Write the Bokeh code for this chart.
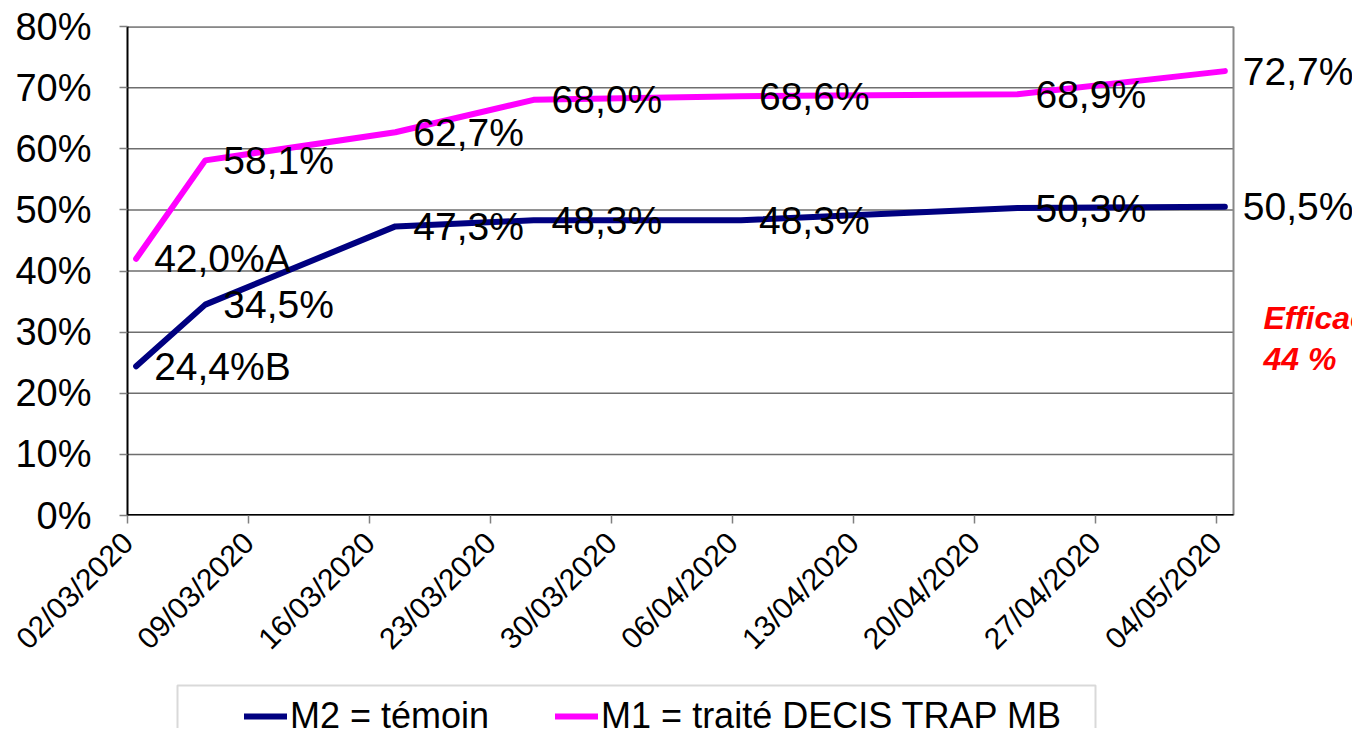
import math
from datetime import datetime, timedelta

from bokeh.plotting import figure
from bokeh.layouts import column
from bokeh.models import (Range1d, FixedTicker, DatetimeTickFormatter, PrintfTickFormatter,
                          Legend, LegendItem, Label, BoxAnnotation, ColumnDataSource)
from bokeh.core.properties import value
from bokeh.embed import file_html
from bokeh.resources import INLINE

# ---------------- data ----------------
dates = ["02/03/2020", "06/03/2020", "17/03/2020", "25/03/2020",
         "06/04/2020", "22/04/2020", "04/05/2020"]
m2_values = [24.4, 34.5, 47.3, 48.3, 48.3, 50.3, 50.5]
m1_values = [42.0, 58.1, 62.7, 68.0, 68.6, 68.9, 72.7]
m2_letters = ["B", "", "", "", "", "", ""]
m1_letters = ["A", "", "", "", "", "", ""]
m2_name = "M2 = témoin"
m1_name = "M1 = traité DECIS TRAP MB"
m2_color = "#000080"
m1_color = "#FF00FF"
tick_dates = ["02/03/2020", "09/03/2020", "16/03/2020", "23/03/2020", "30/03/2020",
              "06/04/2020", "13/04/2020", "20/04/2020", "27/04/2020", "04/05/2020"]
y_ticks = [0, 10, 20, 30, 40, 50, 60, 70, 80]
x_start = "02/03/2020"
x_end = "05/05/2020"
note_lines = ["Efficacité", "44 %"]

FONT = "Liberation Sans"

# ---------------- layout constants (pixels) ----------------
W = 1352
MAIN_H = 680
LEG_H = 48
LEFT = 127
TOP = 26
PLOT_RIGHT = 1233          # right edge of the plotting area
PLOT_BOTTOM = 515


def parse(d):
    return datetime.strptime(d, "%d/%m/%Y")


def to_ms(dt):
    return (dt - datetime(1970, 1, 1)).total_seconds() * 1000.0


def fmt(v, letter):
    return f"{v:.1f}".replace(".", ",") + "%" + letter


x0 = parse(x_start)
x1 = parse(x_end)
days = (x1 - x0).days
px_per_day = (PLOT_RIGHT - LEFT) / days
# the frame continues to the right edge so outside labels are not clipped
view_end = x1 + timedelta(days=(W - PLOT_RIGHT) / px_per_day)

# points sit in the middle of their day slot (date axis "between tick marks")
xs = [parse(d) + timedelta(hours=12) for d in dates]

src2 = ColumnDataSource(dict(x=xs, y=m2_values,
                             label=[fmt(v, l) for v, l in zip(m2_values, m2_letters)]))
src1 = ColumnDataSource(dict(x=xs, y=m1_values,
                             label=[fmt(v, l) for v, l in zip(m1_values, m1_letters)]))

p = figure(width=W, height=MAIN_H, x_axis_type="datetime",
           x_range=Range1d(x0, view_end),
           y_range=Range1d(y_ticks[0], y_ticks[-1]),
           output_backend="svg", toolbar_location=None,
           min_border_left=LEFT, min_border_right=0,
           min_border_top=TOP, min_border_bottom=MAIN_H - PLOT_BOTTOM)

p.background_fill_color = "white"
p.border_fill_color = "white"
p.outline_line_color = None
p.xgrid.visible = False
p.ygrid.visible = False

# grid lines and plot-area border (limited to the plotting area)
p.segment(x0=[x0] * len(y_ticks), x1=[x1] * len(y_ticks), y0=y_ticks, y1=y_ticks,
          line_color="#6e6e6e", line_width=1.5)
p.segment(x0=[x0], x1=[x1], y0=[y_ticks[-1]], y1=[y_ticks[-1]],
          line_color="#888888", line_width=3)
p.segment(x0=[x1], x1=[x1], y0=[y_ticks[0]], y1=[y_ticks[-1]],
          line_color="#888888", line_width=2)
p.segment(x0=[x0], x1=[x1], y0=[y_ticks[0]], y1=[y_ticks[0]],
          line_color="black", line_width=3)

# y axis
p.yaxis.ticker = FixedTicker(ticks=y_ticks)
p.yaxis.formatter = PrintfTickFormatter(format="%d%%")
p.yaxis.major_label_text_font = FONT
p.yaxis.major_label_text_font_size = "38px"
p.yaxis.major_label_text_color = "black"
p.yaxis.axis_line_color = "black"
p.yaxis.axis_line_width = 2
p.yaxis.major_tick_out = 8
p.yaxis.major_tick_in = 0
p.yaxis.major_tick_line_color = "#808080"
p.yaxis.major_tick_line_width = 1.5
p.yaxis.minor_tick_line_color = None
p.yaxis.major_label_standoff = 28

# x axis
p.xaxis.ticker = FixedTicker(ticks=[to_ms(parse(d)) for d in tick_dates])
f = "%d/%m/%Y"
p.xaxis.formatter = DatetimeTickFormatter(days=f, months=f, years=f, hours=f,
                                          hourmin=f, minutes=f, minsec=f,
                                          seconds=f, milliseconds=f, microseconds=f)
p.xaxis.major_label_orientation = math.pi / 4
p.xaxis.major_label_text_font = FONT
p.xaxis.major_label_text_font_size = "30px"
p.xaxis.major_label_text_color = "black"
p.xaxis.axis_line_color = None
p.xaxis.major_tick_out = 8
p.xaxis.major_tick_in = 0
p.xaxis.major_tick_line_color = "#808080"
p.xaxis.major_tick_line_width = 1.5
p.xaxis.minor_tick_line_color = None
p.xaxis.major_label_standoff = 14

# lines
p.line("x", "y", source=src2, line_width=6, line_color=m2_color,
       line_cap="round", line_join="round")
p.line("x", "y", source=src1, line_width=6, line_color=m1_color,
       line_cap="round", line_join="round")

# data labels
for s in (src2, src1):
    p.text("x", "y", text="label", source=s, x_offset=18,
           text_align="left", text_baseline="middle",
           text_font=value(FONT), text_font_size="39px", text_color="black")

# efficacy note
for txt, yy in zip(note_lines, (198, 157)):
    p.add_layout(Label(x=1136, y=yy, x_units="screen", y_units="screen",
                       text=txt, text_font=FONT, text_font_style="bold italic",
                       text_font_size="32px", text_color="#FF0000",
                       text_baseline="alphabetic"))

# ---------------- legend strip (frame aligned with the chart above) ----------------
pl = figure(width=W, height=LEG_H, output_backend="svg", toolbar_location=None,
            x_range=Range1d(0, 1), y_range=Range1d(0, 1),
            min_border_left=LEFT, min_border_right=0, min_border_top=0, min_border_bottom=0)
pl.axis.visible = False
pl.grid.visible = False
pl.outline_line_color = None
# legend proxies: same series, lying outside this strip's ranges
lr2 = pl.line("x", "y", source=src2, line_width=6, line_color=m2_color, line_cap="round")
lr1 = pl.line("x", "y", source=src1, line_width=6, line_color=m1_color, line_cap="round")

pl.add_layout(BoxAnnotation(left=177 - LEFT, right=1095 - LEFT, top=LEG_H - 5, bottom=-40,
                            left_units="screen", right_units="screen",
                            top_units="screen", bottom_units="screen",
                            fill_alpha=0, line_color="#808080", line_width=2))

legend = Legend(items=[LegendItem(label=m2_name, renderers=[lr2]),
                       LegendItem(label=m1_name, renderers=[lr1])],
                orientation="horizontal", location=(244 - LEFT, -9),
                padding=0, margin=0, spacing=66,
                glyph_width=43, glyph_height=40, label_height=40,
                label_standoff=3, label_text_font=FONT,
                label_text_font_size="36px", label_text_color="black",
                border_line_alpha=0, background_fill_alpha=0)
pl.add_layout(legend)

open("out.html", "w").write(file_html(column(p, pl, spacing=0), INLINE))
